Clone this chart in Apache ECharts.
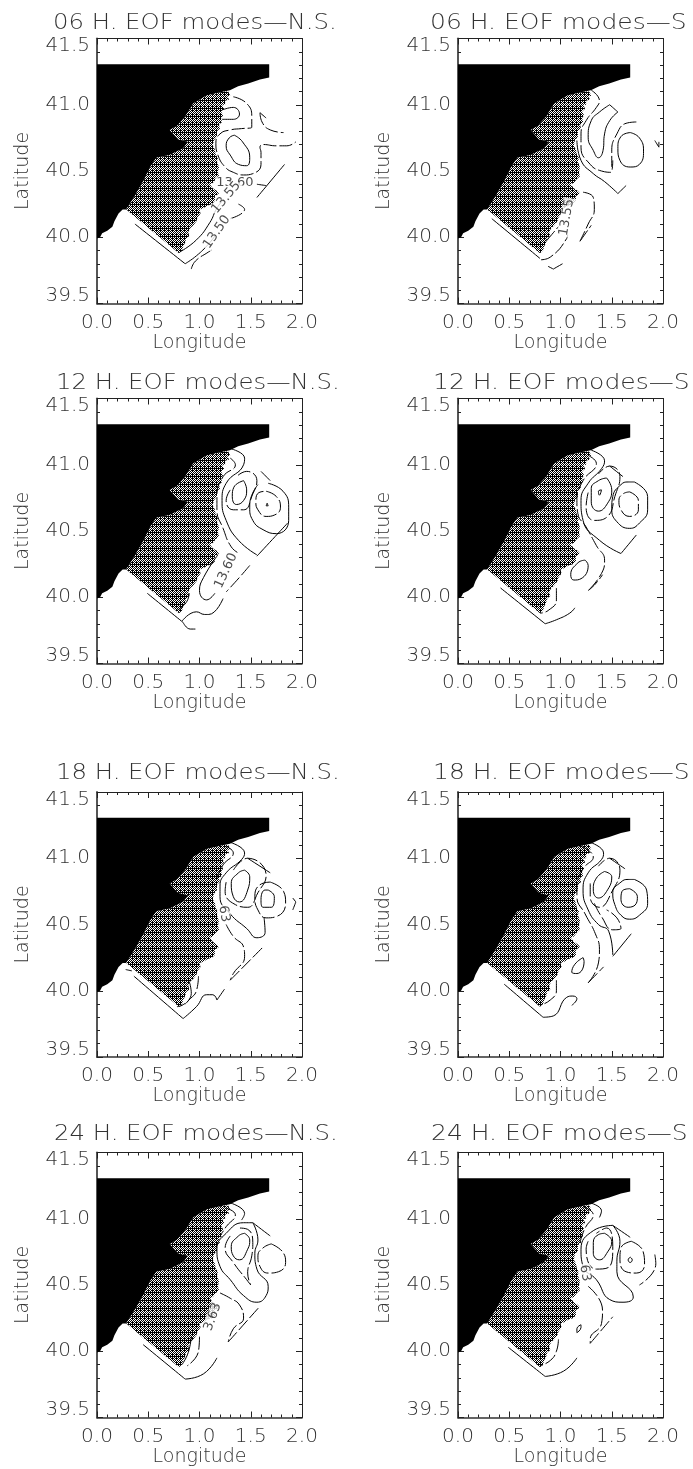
<!DOCTYPE html>
<html>
<head>
<meta charset="utf-8">
<style>
html, body { margin: 0; padding: 0; background: #fff; }
#main { width: 693px; height: 1469px; }
</style>
<script src="https://cdn.jsdelivr.net/npm/echarts@6/dist/echarts.min.js"></script>
</head>
<body>
<div id="main"></div>
<script>
// coast and model area, [lon, lat]
var landArea = [[0,41.306],[1.68,41.306],[1.68,41.205],[1.59,41.19],[1.475,41.16],[1.377,41.14],[1.297,41.11],[1.24,41.10],[1.07,41.07],[.94,41.01],[.86,40.91],[.78,40.84],[.71,40.81],[.79,40.74],[.89,40.72],[.84,40.67],[.71,40.62],[.58,40.60],[.52,40.53],[.45,40.42],[.36,40.30],[.285,40.21],[.25,40.21],[.21,40.18],[.17,40.12],[.15,40.08],[.10,40.05],[.05,40.03],[.03,40.0],[0,39.99]];
var gridArea = [[1.24,41.10],[1.28,41.10],[1.30,41.07],[1.27,41.06],[1.29,41.04],[1.25,41.03],[1.25,41.00],[1.22,41.00],[1.24,40.97],[1.21,40.95],[1.23,40.92],[1.21,40.90],[1.22,40.87],[1.19,40.85],[1.20,40.82],[1.17,40.80],[1.17,40.76],[1.14,40.73],[1.13,40.69],[1.15,40.66],[1.16,40.62],[1.18,40.60],[1.17,40.57],[1.19,40.53],[1.18,40.49],[1.19,40.46],[1.16,40.44],[1.13,40.41],[1.10,40.40],[1.13,40.37],[1.17,40.35],[1.19,40.33],[1.15,40.31],[1.15,40.27],[1.12,40.25],[1.08,40.24],[1.04,40.22],[1.00,40.21],[1.01,40.18],[.98,40.15],[.97,40.12],[.94,40.09],[.91,40.07],[.89,40.04],[.90,40.01],[.87,39.99],[.86,39.96],[.84,39.93],[.83,39.90],[.80,39.88],[.285,40.21],[.36,40.30],[.45,40.42],[.52,40.53],[.58,40.60],[.71,40.62],[.84,40.67],[.89,40.72],[.79,40.74],[.71,40.81],[.78,40.84],[.86,40.91],[.94,41.01],[1.07,41.07]];

// 06 H
var solid06NS = [
    [[1.34,40.77],[1.42,40.72],[1.49,40.60],[1.46,40.54],[1.38,40.55],[1.30,40.62],[1.26,40.69],[1.29,40.75],[1.34,40.77]],
    [[1.22,40.96],[1.33,40.98],[1.39,40.93],[1.33,40.89],[1.22,40.89]],
    [[1.83,40.55],[1.56,40.30]],
    [[.37,40.10],[.86,39.80]],
    [[.86,39.80],[.97,39.86],[1.09,39.95],[1.15,40.01]],
    [[.81,39.89],[.97,39.98],[1.10,40.11],[1.17,40.22],[1.23,40.28]]
];
var dashed06NS = [
    [[1.33,41.06],[1.46,41.01],[1.51,40.91],[1.51,40.83],[1.41,40.82],[1.30,40.81],[1.20,40.78],[1.16,40.71],[1.18,40.62],[1.25,40.53],[1.33,40.49],[1.43,40.47],[1.52,40.48],[1.60,40.55],[1.60,40.64],[1.59,40.68],[1.62,40.70],[1.75,40.69],[1.85,40.69],[1.94,40.72]],
    [[1.65,40.90],[1.59,40.94]],
    [[1.59,40.94],[1.61,40.87],[1.69,40.81],[1.82,40.79]],
    [[1.56,40.40],[1.65,40.39]],
    [[1.30,40.14],[1.44,40.21],[1.38,40.25]],
    [[.92,39.76],[.96,39.82],[1.09,39.89],[1.13,39.91]]
];
var labels06NS = [[1.345,40.41,'13.60',0],[1.26,40.30,'13.55',50],[1.17,40.04,'13.50',55]];

var solid06S = [
    [[1.68,40.79],[1.77,40.75],[1.81,40.65],[1.77,40.55],[1.68,40.53],[1.58,40.58],[1.56,40.67],[1.59,40.76],[1.68,40.79]],
    [[1.48,41.0],[1.56,40.945]],
    [[1.56,40.945],[1.48,40.88],[1.43,40.78],[1.415,40.655],[1.37,40.60],[1.32,40.655],[1.27,40.755],[1.30,40.88],[1.38,40.945],[1.48,41.0]],
    [[1.16,40.73],[1.20,40.58],[1.32,40.48],[1.43,40.42],[1.56,40.33]],
    [[1.56,40.33],[1.64,40.39]],
    [[.33,40.14],[.80,39.84]],
    [[.88,39.78],[.93,39.76]],
    [[.93,39.76],[1.02,39.80]],
    [[1.92,40.73],[1.96,40.68],[1.96,40.72]]
];
var dashed06S = [
    [[1.74,40.87],[1.64,40.86],[1.55,40.78],[1.50,40.65],[1.50,40.53]],
    [[1.30,41.11],[1.38,41.03],[1.35,40.98],[1.25,40.88],[1.20,40.78],[1.20,40.68],[1.29,40.55],[1.40,40.50],[1.49,40.49],[1.51,40.58]],
    [[1.22,40.34],[1.32,40.30],[1.33,40.21],[1.27,40.10],[1.19,39.97]],
    [[1.19,39.97],[1.30,40.09]],
    [[.81,39.83],[.90,39.85],[1.06,39.99],[1.07,40.02]],
    [[.86,39.97],[.98,40.08]]
];
var labels06S = [[1.06,40.15,'13.55',80]];

// 12 H
var solid12NS = [
    [[1.66,40.71],[1.67,40.69],[1.65,40.69],[1.66,40.71]],
    [[1.43,40.88],[1.46,40.81],[1.43,40.73],[1.36,40.70],[1.32,40.76],[1.335,40.83],[1.43,40.88]],
    [[1.60,40.95],[1.69,40.88]],
    [[1.67,40.86],[1.815,40.80],[1.87,40.68],[1.87,40.58],[1.75,40.48],[1.62,40.51],[1.52,40.58],[1.49,40.68],[1.51,40.77],[1.57,40.85]],
    [[1.31,41.12],[1.44,41.05],[1.43,41.0],[1.26,40.86],[1.22,40.73],[1.26,40.58],[1.38,40.43],[1.56,40.32]],
    [[1.56,40.31],[1.86,40.56]],
    [[1.18,40.32],[1.04,40.15],[1.00,40.05],[1.07,39.98],[1.15,40.03]],
    [[.49,40.03],[.84,39.81]],
    [[.84,39.81],[.91,39.76],[.96,39.76]],
    [[.83,39.82],[.97,39.89],[1.05,39.87],[1.09,39.87],[1.23,39.99]],
    [[.78,39.90],[.87,39.96],[.90,40.03]]
];
var dashed12NS = [
    [[1.65,40.80],[1.75,40.76],[1.79,40.68],[1.73,40.62],[1.65,40.61],[1.57,40.66],[1.55,40.72],[1.58,40.79],[1.65,40.80]],
    [[1.30,40.81],[1.26,40.73],[1.33,40.66],[1.43,40.66],[1.52,40.78],[1.56,40.88],[1.46,40.95],[1.36,40.91]],
    [[1.30,41.05],[1.35,41.0],[1.23,40.91],[1.17,40.76],[1.17,40.66],[1.23,40.52],[1.31,40.38],[1.39,40.33]],
    [[1.49,40.24],[1.39,40.15],[1.26,40.04]]
];
var labels12NS = [[1.26,40.20,'13.60',65]];

var solid12S = [
    [[1.40,40.81],[1.38,40.77],[1.37,40.80],[1.40,40.81]],
    [[1.45,40.90],[1.50,40.81],[1.46,40.71],[1.37,40.65],[1.30,40.72],[1.30,40.82],[1.37,40.88],[1.45,40.90]],
    [[1.72,40.87],[1.85,40.76],[1.85,40.66],[1.77,40.56],[1.675,40.52],[1.55,40.57],[1.50,40.67],[1.51,40.76],[1.59,40.85],[1.66,40.87],[1.72,40.87]],
    [[1.48,40.99],[1.61,40.91]],
    [[1.30,41.11],[1.43,41.03],[1.40,40.97],[1.27,40.86],[1.20,40.73],[1.22,40.58],[1.38,40.43],[1.59,40.33]],
    [[1.59,40.33],[1.74,40.47]],
    [[1.24,40.28],[1.27,40.24],[1.20,40.14],[1.13,40.13],[1.10,40.17],[1.17,40.26],[1.24,40.28]],
    [[.415,40.07],[.85,39.80]],
    [[.85,39.80],[.96,39.83],[1.09,39.88],[1.14,39.92]]
];
var dashed12S = [
    [[1.675,40.795],[1.76,40.73],[1.76,40.66],[1.675,40.61],[1.59,40.66],[1.57,40.73],[1.61,40.78],[1.675,40.795]],
    [[1.27,40.79],[1.25,40.68],[1.33,40.58],[1.46,40.61],[1.53,40.76],[1.58,40.91],[1.48,40.99],[1.37,40.93]],
    [[1.27,41.07],[1.35,41.01],[1.22,40.88],[1.16,40.73],[1.17,40.63],[1.25,40.53],[1.35,40.39],[1.43,40.28],[1.40,40.18],[1.27,40.05]],
    [[1.27,40.05],[1.34,40.10],[1.41,40.17]],
    [[.96,40.07],[.96,39.98],[.88,39.90],[.80,39.88]]
];
var labels12S = [];

// 18 H
var solid18NS = [
    [[1.67,40.76],[1.73,40.71],[1.70,40.63],[1.62,40.63],[1.60,40.69],[1.64,40.76],[1.67,40.76]],
    [[1.44,40.91],[1.49,40.86],[1.47,40.76],[1.39,40.67],[1.33,40.71],[1.31,40.81],[1.38,40.89],[1.44,40.91]],
    [[1.47,41.0],[1.69,40.89]],
    [[1.30,41.12],[1.44,41.04],[1.41,40.99],[1.26,40.89],[1.20,40.79],[1.20,40.71],[1.30,40.58],[1.46,40.47],[1.56,40.40],[1.64,40.44],[1.63,40.55]],
    [[.36,40.11],[.84,39.79]],
    [[.84,39.79],[.97,39.88],[1.07,39.97],[1.13,39.97],[1.17,39.93]],
    [[.90,40.07],[.92,39.98],[.86,39.90]],
    [[1.91,40.70],[1.94,40.67]],
    [[1.94,40.67],[1.91,40.61]]
];
var dashed18NS = [
    [[1.69,40.82],[1.82,40.75],[1.84,40.66],[1.75,40.56],[1.65,40.55],[1.57,40.61],[1.54,40.71],[1.59,40.80],[1.69,40.82]],
    [[1.26,40.82],[1.25,40.75],[1.35,40.65],[1.47,40.63],[1.57,40.74],[1.65,40.87],[1.47,41.0],[1.33,40.91]],
    [[1.26,41.09],[1.33,41.04],[1.23,40.95],[1.17,40.85]],
    [[1.26,40.50],[1.33,40.41],[1.43,40.33],[1.44,40.26],[1.33,40.13],[1.30,40.08]],
    [[1.30,40.08],[1.62,40.33]],
    [[.99,40.11],[.97,40.0],[.91,39.94],[.83,39.89],[.78,39.88]],
    [[1.17,39.93],[1.26,40.03]],
    [[.28,40.16],[.34,40.15]]
];
var labels18NS = [[1.24,40.58,'63',-80]];

var solid18S = [
    [[1.675,40.77],[1.75,40.71],[1.74,40.66],[1.66,40.63],[1.59,40.69],[1.60,40.75],[1.675,40.77]],
    [[1.72,40.84],[1.84,40.76],[1.85,40.66],[1.77,40.57],[1.675,40.54],[1.59,40.57],[1.53,40.65],[1.51,40.74],[1.59,40.82],[1.66,40.84],[1.72,40.84]],
    [[1.43,40.90],[1.50,40.86],[1.45,40.75],[1.37,40.70],[1.32,40.76],[1.35,40.85],[1.43,40.90]],
    [[1.48,41.0],[1.63,40.92]],
    [[1.29,41.12],[1.42,41.04],[1.40,40.99],[1.27,40.89],[1.22,40.76],[1.27,40.61],[1.37,40.50],[1.47,40.45],[1.51,40.27]],
    [[1.51,40.26],[1.69,40.43]],
    [[1.22,40.25],[1.23,40.22],[1.16,40.13],[1.11,40.14],[1.14,40.20],[1.22,40.25]],
    [[.45,40.05],[.83,39.80]],
    [[.83,39.80],[.93,39.81],[1.06,39.95],[1.12,39.96],[1.16,39.94],[1.11,39.89]]
];
var dashed18S = [
    [[1.29,40.81],[1.29,40.71],[1.38,40.63],[1.51,40.76],[1.58,40.91],[1.48,41.0],[1.37,40.94]],
    [[1.33,40.66],[1.40,40.56],[1.51,40.46],[1.59,40.47],[1.55,40.55],[1.45,40.61]],
    [[1.20,41.09],[1.32,41.01],[1.22,40.92],[1.16,40.79],[1.16,40.71],[1.24,40.58],[1.34,40.43],[1.38,40.31],[1.37,40.21],[1.27,40.06]],
    [[1.27,40.06],[1.42,40.18]],
    [[.96,40.08],[.96,40.0],[.90,39.93],[.80,39.89]]
];
var labels18S = [];

// 24 H
var solid24NS = [
    [[1.44,40.89],[1.49,40.84],[1.47,40.77],[1.39,40.69],[1.33,40.72],[1.31,40.79],[1.38,40.87],[1.44,40.89]],
    [[1.52,40.97],[1.57,40.84],[1.54,40.74],[1.56,40.62],[1.67,40.49],[1.65,40.42],[1.56,40.37],[1.43,40.42],[1.30,40.54],[1.20,40.64],[1.17,40.77],[1.26,40.89],[1.43,40.97],[1.52,40.97]],
    [[1.52,40.97],[1.69,40.87]],
    [[1.30,41.12],[1.44,41.04],[1.41,40.99]],
    [[.92,40.11],[.89,39.99],[.83,39.90]],
    [[.45,40.05],[.86,39.79]],
    [[.86,39.79],[1.04,39.83],[1.17,39.95]]
];
var dashed24NS = [
    [[1.70,40.81],[1.82,40.74],[1.84,40.67],[1.77,40.60],[1.67,40.59],[1.59,40.64],[1.57,40.72],[1.62,40.78],[1.70,40.81]],
    [[1.30,40.87],[1.25,40.78],[1.33,40.67],[1.46,40.54],[1.50,40.50],[1.47,40.59],[1.51,40.72],[1.52,40.82],[1.47,40.92],[1.39,40.93]],
    [[1.26,41.08],[1.35,41.03],[1.26,40.94],[1.21,40.88]],
    [[1.20,40.44],[1.30,40.40],[1.39,40.35],[1.43,40.25],[1.33,40.17],[1.28,40.07]],
    [[1.28,40.07],[1.59,40.34]],
    [[1.0,40.11],[.99,40.0],[.88,39.89]]
];
var labels24NS = [[1.13,40.26,'3.63',70]];

var solid24S = [
    [[1.68,40.71],[1.70,40.69],[1.68,40.67],[1.66,40.69],[1.68,40.71]],
    [[1.43,40.89],[1.50,40.83],[1.46,40.75],[1.38,40.69],[1.32,40.74],[1.32,40.82],[1.37,40.88],[1.43,40.89]],
    [[1.51,40.95],[1.58,40.83],[1.55,40.68],[1.55,40.60],[1.71,40.41],[1.61,40.37],[1.48,40.39],[1.35,40.54],[1.22,40.64],[1.20,40.77],[1.32,40.91],[1.51,40.95]],
    [[1.51,40.95],[1.68,40.86]],
    [[1.29,41.12],[1.40,41.06],[1.38,41.01]],
    [[1.20,40.20],[1.20,40.18],[1.16,40.14],[1.16,40.17],[1.20,40.20]],
    [[.49,40.03],[.85,39.81]],
    [[.85,39.81],[1.03,39.85],[1.16,39.95]]
];
var dashed24S = [
    [[1.69,40.83],[1.805,40.755],[1.82,40.655],[1.74,40.59],[1.64,40.60],[1.58,40.69],[1.59,40.78],[1.69,40.83]],
    [[1.27,40.83],[1.25,40.77],[1.35,40.62],[1.48,40.64],[1.51,40.79],[1.45,40.93],[1.35,40.89]],
    [[1.22,41.09],[1.32,41.03],[1.24,40.93],[1.19,40.82]],
    [[1.92,40.73],[1.93,40.66],[1.77,40.50]],
    [[1.27,40.49],[1.41,40.31],[1.40,40.21],[1.29,40.09],[1.29,40.06]],
    [[1.29,40.06],[1.51,40.26]],
    [[.98,40.09],[.96,40.0],[.90,39.93],[.80,39.89]]
];
var labels24S = [[1.24,40.59,'63',-80]];

var titles = ['06 H. EOF modes\u2014N.S.', '06 H. EOF modes\u2014S', '12 H. EOF modes\u2014N.S.', '12 H. EOF modes\u2014S', '18 H. EOF modes\u2014N.S.', '18 H. EOF modes\u2014S', '24 H. EOF modes\u2014N.S.', '24 H. EOF modes\u2014S'];
var solids = [solid06NS, solid06S, solid12NS, solid12S, solid18NS, solid18S, solid24NS, solid24S];
var dashes = [dashed06NS, dashed06S, dashed12NS, dashed12S, dashed18NS, dashed18S, dashed24NS, dashed24S];
var labels = [labels06NS, labels06S, labels12NS, labels12S, labels18NS, labels18S, labels24NS, labels24S];

// plot boxes in the page
var colLeft = [97, 458];
var rowTop = [38.5, 398.5, 792, 1152.5];
var titleLeft = [[53, 430], [56, 433], [56, 433], [54, 431]];
var titleTop = [13, 373, 763, 1124];
var titleStretch = [1.16, 1.19];
var plotW = 205, plotH = 265;
var fontName = '"DejaVu Sans", sans-serif';
var textColor = '#333';

// little dither tile for the model grid area
function makeTile() {
    var c = document.createElement('canvas');
    c.width = 8;
    c.height = 8;
    var ctx = c.getContext('2d');
    ctx.fillStyle = '#000';
    ctx.fillRect(0, 0, 8, 8);
    ctx.fillStyle = '#fff';
    for (var x = 0; x < 8; x++) {
        for (var y = 0; y < 8; y++) {
            var lattice = (x + y) % 4 == 0 || (x - y + 8) % 4 == 0;
            if (y == 0 ? x % 2 == 0 : (lattice && y != 4)) {
                ctx.fillRect(x, y, 1, 1);
            }
        }
    }
    return c;
}
var tile = makeTile();

function polygonSeries(points, fill, idx) {
    return {
        type: 'custom',
        xAxisIndex: idx * 2,
        yAxisIndex: idx * 2,
        silent: true,
        data: [0],
        renderItem: function (params, api) {
            var pts = points.map(function (p) { return api.coord(p); });
            return { type: 'polygon', shape: { points: pts }, style: { fill: fill, stroke: null } };
        }
    };
}

function contourSeries(points, dashed, idx) {
    return {
        type: 'line',
        xAxisIndex: idx * 2,
        yAxisIndex: idx * 2,
        silent: true,
        showSymbol: false,
        smooth: 0.5,
        z: 5,
        data: points,
        lineStyle: { color: '#000', width: 1, type: dashed ? [13, 3] : 'solid' }
    };
}

function labelSeries(list, idx) {
    return {
        type: 'scatter',
        xAxisIndex: idx * 2,
        yAxisIndex: idx * 2,
        silent: true,
        z: 6,
        symbolSize: 1,
        itemStyle: { color: 'transparent' },
        data: list.map(function (l) {
            return {
                value: [l[0], l[1]],
                label: {
                    show: true, position: 'inside', formatter: l[2], rotate: l[3],
                    fontFamily: fontName, fontSize: 13, color: '#222',
                    backgroundColor: '#fff', padding: [0, 1]
                }
            };
        })
    };
}

var grids = [], xAxes = [], yAxes = [], series = [], titleList = [];

for (var i = 0; i < 8; i++) {
    var row = Math.floor(i / 2), col = i % 2;
    grids.push({ left: colLeft[col], top: rowTop[row], width: plotW, height: plotH });
    titleList.push({
        type: 'text', x: titleLeft[row][col], y: titleTop[row], scaleX: titleStretch[col],
        style: { text: titles[i], fontFamily: fontName, fontSize: 21, fontWeight: 200, fill: textColor, textVerticalAlign: 'top' }
    });

    xAxes.push({
        gridIndex: i, type: 'value', position: 'bottom', min: 0, max: 2, interval: 0.5,
        name: 'Longitude', nameLocation: 'middle', nameGap: 30,
        nameTextStyle: { fontFamily: fontName, fontSize: 19, fontWeight: 200, color: textColor },
        axisLine: { onZero: false, lineStyle: { color: '#333', width: 1.5 } },
        axisTick: { inside: true, length: 6, lineStyle: { color: '#222' } },
        minorTick: { show: true, splitNumber: 5, length: 3, lineStyle: { color: '#222' } },
        splitLine: { show: false },
        axisLabel: { margin: 9, fontFamily: fontName, fontSize: 20, fontWeight: 200, color: textColor, formatter: function (v) { return v.toFixed(1); } }
    });
    xAxes.push({
        gridIndex: i, type: 'value', position: 'top', min: 0, max: 2, interval: 0.5,
        axisLine: { onZero: false, lineStyle: { color: '#222', width: 1 } },
        axisTick: { inside: true, length: 6, lineStyle: { color: '#222' } },
        minorTick: { show: true, splitNumber: 5, length: 3, lineStyle: { color: '#222' } },
        splitLine: { show: false },
        axisLabel: { show: false }
    });
    yAxes.push({
        gridIndex: i, type: 'value', position: 'left', min: 39.5, max: 41.5, interval: 0.5,
        name: 'Latitude', nameLocation: 'middle', nameGap: 64,
        nameTextStyle: { fontFamily: fontName, fontSize: 19, fontWeight: 200, color: textColor },
        axisLine: { onZero: false, lineStyle: { color: '#555', width: 2 } },
        axisTick: { inside: true, length: 6, lineStyle: { color: '#222' } },
        minorTick: { show: true, splitNumber: 5, length: 3, lineStyle: { color: '#222' } },
        splitLine: { show: false },
        axisLabel: {
            margin: 7, fontFamily: fontName, fontSize: 20, fontWeight: 200, color: textColor, lineHeight: 15,
            verticalAlignMaxLabel: 'top', verticalAlignMinLabel: 'bottom',
            formatter: function (v) { return v.toFixed(1); }
        }
    });
    yAxes.push({
        gridIndex: i, type: 'value', position: 'right', min: 39.5, max: 41.5, interval: 0.5,
        axisLine: { onZero: false, lineStyle: { color: '#222', width: 1 } },
        axisTick: { inside: true, length: 6, lineStyle: { color: '#222' } },
        minorTick: { show: true, splitNumber: 5, length: 3, lineStyle: { color: '#222' } },
        splitLine: { show: false },
        axisLabel: { show: false }
    });

    series.push(polygonSeries(landArea, '#000', i));
    series.push(polygonSeries(gridArea, { image: tile, repeat: 'repeat' }, i));
    solids[i].forEach(function (pts) { series.push(contourSeries(pts, false, i)); });
    dashes[i].forEach(function (pts) { series.push(contourSeries(pts, true, i)); });
    if (labels[i].length) {
        series.push(labelSeries(labels[i], i));
    }
}

var myChart = echarts.init(document.getElementById('main'), null, { renderer: 'canvas' });
myChart.setOption({
    animation: false,
    backgroundColor: '#fff',
    graphic: titleList,
    grid: grids,
    xAxis: xAxes,
    yAxis: yAxes,
    series: series
});
</script>
</body>
</html>
